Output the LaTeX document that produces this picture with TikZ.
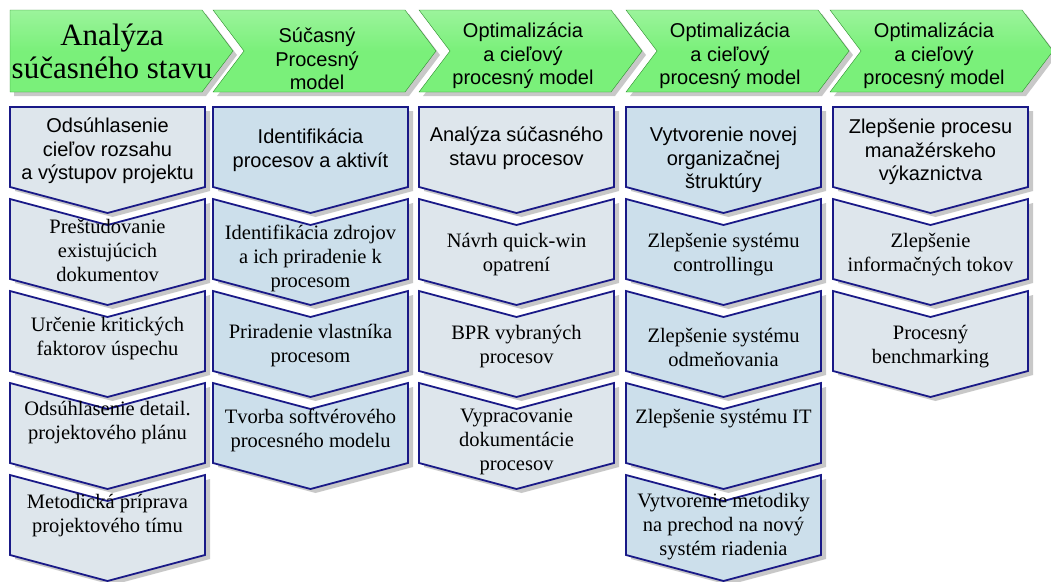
\documentclass[tikz,border=0pt]{standalone}
\usepackage{fontspec}
\setmainfont{Liberation Serif}
\setsansfont{Liberation Sans}
\usepackage{xcolor}
\definecolor{phasegreen}{RGB}{122,240,122}
\definecolor{phaseedge}{RGB}{46,140,46}
\definecolor{taskgray}{RGB}{222,230,236}
\definecolor{taskblue}{RGB}{204,223,235}
\definecolor{taskedge}{RGB}{25,25,135}
\definecolor{shadowgray}{RGB}{200,200,200}

% phase arrow in the top row: left x, depth of the notch
\newcommand{\phasehead}[2]{%
  \fill[shadowgray, shift={(4,4)}] (#1,10) -- ++(192,0) -- ++(31,41) -- ++(-31,41) -- ++(-192,0) -- ++(#2,-41) -- cycle;
  \draw[phaseedge, top color=phasegreen!75!white, bottom color=phasegreen, middle color=phasegreen]
    (#1,10) -- ++(192,0) -- ++(31,41) -- ++(-31,41) -- ++(-192,0) -- ++(#2,-41) -- cycle;
}
% task chevron: left x, top y, depth of the notch, fill colour
\newcommand{\taskbox}[4]{%
  \fill[shadowgray, shift={(5,4)}] (#1,#2) -- ++(97.5,#3) -- ++(97.5,-#3) -- ++(0,80) -- ++(-97.5,26) -- ++(-97.5,-26) -- cycle;
  \draw[taskedge, line width=1.8pt, line join=miter, fill=#4]
    (#1,#2) -- ++(97.5,#3) -- ++(97.5,-#3) -- ++(0,80) -- ++(-97.5,26) -- ++(-97.5,-26) -- cycle;
}

\tikzset{
  phasesans/.style={font=\sffamily\fontsize{20}{23.5}\selectfont, align=center},
  phaseserif/.style={font=\fontsize{31}{33}\selectfont, align=center},
  tasksans/.style={font=\sffamily\fontsize{20}{23.5}\selectfont, align=center},
  taskserif/.style={font=\fontsize{20.5}{24}\selectfont, align=center}
}

\begin{document}
\begin{tikzpicture}[x=1pt, y=-1pt]
    \useasboundingbox (0,0) rectangle (1051,581);

    % Phases
    \phasehead{10}{0}
    \phasehead{213}{31}
    \phasehead{419}{31}
    \phasehead{626}{31}
    \phasehead{830}{31}
    \node[phaseserif] (h1) at (112,51) {Analýza\\súčasného stavu};
    \node[phasesans] (h2) at (317,59) {Súčasný\\Procesný\\model};
    \node[phasesans] (h3) at (523,56) {Optimalizácia\\a cieľový\\procesný model};
    \node[phasesans] (h4) at (730,56) {Optimalizácia\\a cieľový\\procesný model};
    \node[phasesans] (h5) at (934,56) {Optimalizácia\\a cieľový\\procesný model};

    % Column 1
    \taskbox{10}{107}{0}{taskgray}
    \taskbox{10}{199}{26}{taskgray}
    \taskbox{10}{291}{26}{taskgray}
    \taskbox{10}{383}{26}{taskgray}
    \taskbox{10}{475}{26}{taskgray}
    \node[tasksans] (a1) at (107.5,151) {Odsúhlasenie\\cieľov rozsahu\\a výstupov projektu};
    \node[taskserif] (a2) at (107.5,250) {Preštudovanie\\existujúcich\\dokumentov};
    \node[taskserif] (a3) at (107.5,339) {Určenie kritických\\faktorov úspechu};
    \node[taskserif] (a4) at (107.5,423) {Odsúhlasenie detail.\\projektového plánu};
    \node[taskserif] (a5) at (107.5,516) {Metodická príprava\\projektového tímu};

    % Column 2
    \taskbox{213}{107}{0}{taskblue}
    \taskbox{213}{199}{26}{taskblue}
    \taskbox{213}{291}{26}{taskblue}
    \taskbox{213}{383}{26}{taskblue}
    \node[tasksans] (b1) at (310.5,150) {Identifikácia\\procesov a aktivít};
    \node[taskserif] (b2) at (310.5,258) {Identifikácia zdrojov\\a ich priradenie k\\procesom};
    \node[taskserif] (b3) at (310.5,346) {Priradenie vlastníka\\procesom};
    \node[taskserif] (b4) at (310.5,430) {Tvorba softvérového\\procesného modelu};

    % Column 3
    \taskbox{419}{107}{0}{taskgray}
    \taskbox{419}{199}{26}{taskgray}
    \taskbox{419}{291}{26}{taskgray}
    \taskbox{419}{383}{26}{taskgray}
    \node[tasksans] (c1) at (516.5,148) {Analýza súčasného\\stavu procesov};
    \node[taskserif] (c2) at (516.5,255) {Návrh quick-win\\opatrení};
    \node[taskserif] (c3) at (516.5,347) {BPR vybraných\\procesov};
    \node[taskserif] (c4) at (516.5,442) {Vypracovanie\\dokumentácie\\procesov};

    % Column 4
    \taskbox{626}{107}{0}{taskblue}
    \taskbox{626}{199}{26}{taskblue}
    \taskbox{626}{291}{26}{taskblue}
    \taskbox{626}{383}{26}{taskblue}
    \taskbox{626}{475}{26}{taskblue}
    \node[tasksans] (d1) at (723.5,160) {Vytvorenie novej\\organizačnej\\štruktúry};
    \node[taskserif] (d2) at (723.5,255) {Zlepšenie systému\\controllingu};
    \node[taskserif] (d3) at (723.5,347) {Zlepšenie systému\\odmeňovania};
    \node[taskserif] (d4) at (723.5,419) {Zlepšenie systému IT};
    \node[taskserif] (d5) at (723.5,527) {Vytvorenie metodiky\\na prechod na nový\\systém riadenia};

    % Column 5
    \taskbox{833}{107}{0}{taskgray}
    \taskbox{833}{199}{26}{taskgray}
    \taskbox{833}{291}{26}{taskgray}
    \node[tasksans] (e1) at (930.5,152) {Zlepšenie procesu\\manažérskeho\\výkaznictva};
    \node[taskserif] (e2) at (930.5,255) {Zlepšenie\\informačných tokov};
    \node[taskserif] (e3) at (930.5,347) {Procesný\\benchmarking};
\end{tikzpicture}
\end{document}
